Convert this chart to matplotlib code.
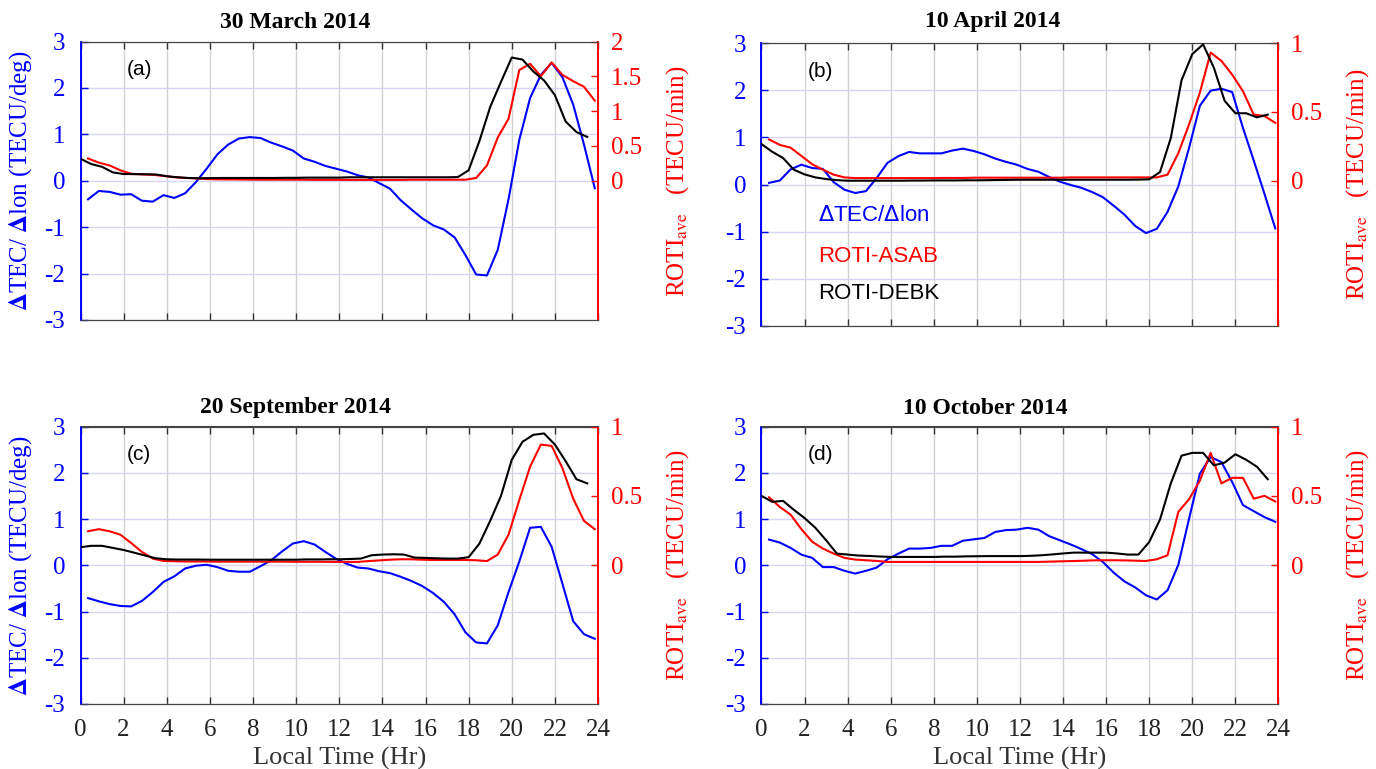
import matplotlib
matplotlib.use("Agg")
import matplotlib.pyplot as plt
import numpy as np

plt.rcParams['font.family'] = ['Liberation Serif', 'DejaVu Serif']
plt.rcParams['mathtext.fontset'] = 'stix'
plt.rcParams['axes.unicode_minus'] = False

# ---------------- data ----------------
# Local time for dTEC/dlon and ROTI-ASAB samples (half-hour steps)
t_main = [0.35 + 0.5 * k for k in range(48)]
# Local time for ROTI-DEBK samples
t_debk = [0.5 * k for k in range(48)]

titles = ["30 March 2014", "10 April 2014", "20 September 2014", "10 October 2014"]
panel_tags = ["(a)", "(b)", "(c)", "(d)"]

dtec_a = [-0.40, -0.22, -0.24, -0.30, -0.29, -0.43, -0.45, -0.31, -0.37, -0.27,
          -0.03, 0.26, 0.57, 0.78, 0.91, 0.94, 0.92, 0.82, 0.74, 0.65,
          0.48, 0.41, 0.32, 0.26, 0.20, 0.12, 0.07, -0.05, -0.17, -0.42,
          -0.62, -0.81, -0.96, -1.05, -1.22, -1.60, -2.02, -2.04, -1.49, -0.40,
          0.88, 1.78, 2.28, 2.54, 2.23, 1.64, 0.78, -0.16]
asab_a = [0.32, 0.26, 0.22, 0.15, 0.10, 0.092, 0.085, 0.07, 0.05, 0.04,
          0.034, 0.025, 0.02, 0.02, 0.018, 0.016, 0.015, 0.015, 0.015, 0.015,
          0.015, 0.013, 0.013, 0.013, 0.012, 0.012, 0.012, 0.012, 0.012, 0.012,
          0.015, 0.015, 0.015, 0.015, 0.015, 0.015, 0.04, 0.22, 0.62, 0.89,
          1.59, 1.68, 1.50, 1.70, 1.52, 1.43, 1.35, 1.15]
debk_a = [0.315, 0.24, 0.20, 0.12, 0.097, 0.095, 0.093, 0.09, 0.065, 0.05,
          0.04, 0.035, 0.038, 0.04, 0.04, 0.04, 0.04, 0.04, 0.04, 0.042,
          0.042, 0.045, 0.045, 0.045, 0.045, 0.05, 0.05, 0.05, 0.05, 0.05,
          0.05, 0.05, 0.05, 0.05, 0.05, 0.053, 0.15, 0.57, 1.06, 1.42,
          1.77, 1.74, 1.57, 1.44, 1.23, 0.85, 0.70, 0.63]

dtec_b = [0.035, 0.085, 0.32, 0.42, 0.35, 0.33, 0.05, -0.11, -0.18, -0.14,
          0.14, 0.46, 0.60, 0.69, 0.66, 0.66, 0.66, 0.72, 0.76, 0.71,
          0.64, 0.55, 0.48, 0.42, 0.33, 0.27, 0.16, 0.06, -0.01, -0.07,
          -0.16, -0.27, -0.45, -0.64, -0.88, -1.03, -0.94, -0.58, -0.04, 0.78,
          1.67, 1.99, 2.03, 1.96, 1.20, 0.51, -0.20, -0.93]
asab_b = [0.30, 0.26, 0.24, 0.18, 0.12, 0.08, 0.044, 0.024, 0.019, 0.019,
          0.019, 0.019, 0.019, 0.019, 0.019, 0.019, 0.02, 0.02, 0.02, 0.022,
          0.022, 0.022, 0.022, 0.022, 0.022, 0.022, 0.022, 0.022, 0.024, 0.024,
          0.024, 0.024, 0.024, 0.024, 0.024, 0.024, 0.024, 0.044, 0.20, 0.41,
          0.64, 0.93, 0.87, 0.77, 0.65, 0.48, 0.47, 0.42]
debk_b = [0.266, 0.21, 0.165, 0.08, 0.046, 0.024, 0.012, 0.004, 0.0, 0.0,
          0.0, 0.0, 0.0, 0.0, 0.001, 0.001, 0.002, 0.002, 0.002, 0.003,
          0.003, 0.004, 0.005, 0.006, 0.007, 0.007, 0.007, 0.007, 0.007, 0.007,
          0.007, 0.007, 0.007, 0.007, 0.007, 0.008, 0.01, 0.063, 0.31, 0.73,
          0.92, 0.99, 0.82, 0.58, 0.49, 0.49, 0.46, 0.48]

dtec_c = [-0.71, -0.78, -0.84, -0.88, -0.89, -0.77, -0.58, -0.36, -0.24, -0.07,
          -0.01, 0.01, -0.04, -0.12, -0.14, -0.14, -0.02, 0.11, 0.30, 0.47,
          0.52, 0.45, 0.29, 0.14, 0.03, -0.05, -0.07, -0.13, -0.17, -0.25,
          -0.34, -0.45, -0.60, -0.79, -1.06, -1.45, -1.67, -1.69, -1.30, -0.58,
          0.08, 0.81, 0.83, 0.40, -0.40, -1.21, -1.49, -1.59]
asab_c = [0.245, 0.26, 0.245, 0.22, 0.16, 0.096, 0.048, 0.031, 0.029, 0.027,
          0.027, 0.027, 0.026, 0.026, 0.026, 0.026, 0.026, 0.026, 0.026, 0.025,
          0.025, 0.025, 0.025, 0.024, 0.024, 0.024, 0.03, 0.035, 0.04, 0.043,
          0.043, 0.04, 0.038, 0.038, 0.038, 0.038, 0.036, 0.03, 0.077, 0.22,
          0.47, 0.71, 0.87, 0.86, 0.70, 0.48, 0.32, 0.26]
debk_c = [0.13, 0.14, 0.14, 0.125, 0.11, 0.09, 0.07, 0.05, 0.043, 0.041,
          0.041, 0.041, 0.04, 0.04, 0.04, 0.04, 0.04, 0.04, 0.04, 0.04,
          0.04, 0.042, 0.042, 0.043, 0.043, 0.045, 0.048, 0.072, 0.077, 0.079,
          0.077, 0.055, 0.053, 0.05, 0.048, 0.048, 0.058, 0.156, 0.32, 0.50,
          0.76, 0.89, 0.94, 0.95, 0.87, 0.75, 0.62, 0.59]

dtec_d = [0.555, 0.49, 0.375, 0.23, 0.16, -0.04, -0.04, -0.12, -0.18, -0.12,
          -0.05, 0.13, 0.25, 0.36, 0.36, 0.375, 0.42, 0.42, 0.53, 0.56,
          0.59, 0.72, 0.76, 0.77, 0.81, 0.77, 0.63, 0.54, 0.45, 0.35,
          0.24, 0.07, -0.16, -0.35, -0.48, -0.65, -0.74, -0.54, 0.01, 1.01,
          1.98, 2.34, 2.23, 1.80, 1.30, 1.17, 1.04, 0.94]
asab_d = [0.49, 0.42, 0.365, 0.26, 0.17, 0.12, 0.084, 0.053, 0.041, 0.036,
          0.031, 0.024, 0.024, 0.024, 0.024, 0.024, 0.024, 0.024, 0.024, 0.024,
          0.024, 0.024, 0.024, 0.024, 0.024, 0.024, 0.026, 0.028, 0.03, 0.032,
          0.035, 0.036, 0.036, 0.035, 0.033, 0.031, 0.043, 0.072, 0.385, 0.476,
          0.61, 0.81, 0.59, 0.63, 0.63, 0.48, 0.50, 0.46]
debk_d = [0.50, 0.457, 0.464, 0.40, 0.34, 0.27, 0.18, 0.084, 0.077, 0.07,
          0.067, 0.063, 0.06, 0.06, 0.06, 0.06, 0.06, 0.062, 0.062, 0.064,
          0.065, 0.066, 0.066, 0.066, 0.066, 0.068, 0.072, 0.078, 0.085, 0.091,
          0.091, 0.091, 0.091, 0.085, 0.077, 0.077, 0.168, 0.33, 0.59, 0.79,
          0.81, 0.81, 0.72, 0.74, 0.80, 0.76, 0.71, 0.62]

dtec_all = [dtec_a, dtec_b, dtec_c, dtec_d]
asab_all = [asab_a, asab_b, asab_c, asab_d]
debk_all = [debk_a, debk_b, debk_c, debk_d]

left_ticks = [-3, -2, -1, 0, 1, 2, 3]
x_ticks = list(range(0, 25, 2))
roti_ticks = [[0, 0.5, 1, 1.5, 2], [0, 0.5, 1], [0, 0.5, 1], [0, 0.5, 1]]
roti_ticklabels = [["0", "0.5", "1", "1.5", "2"], ["0", "0.5", "1"], ["0", "0.5", "1"], ["0", "0.5", "1"]]
roti_lims = [(-2, 2), (-1.055, 1), (-1, 1), (-1, 1)]

# ---------------- layout ----------------
W, H = 1376, 769
fig = plt.figure(figsize=(W / 100, H / 100), dpi=100)

def rect(l, r, t, b):
    return [l / W, 1 - b / H, (r - l) / W, (b - t) / H]

boxes = [(80.5, 598, 41.5, 320), (761.5, 1278.5, 43, 326),
         (80.5, 598, 426.5, 704), (761.5, 1278.5, 426.5, 704)]
title_xy = [(295, 22), (993, 22), (295, 408), (985, 408)]

BLUE = '#0000ff'
RED = '#ff0000'
TICKFS = 18

for i in range(4):
    l, r, t, b = boxes[i]
    ax = fig.add_axes(rect(l, r, t, b))
    ax2 = ax.twinx()

    ax.plot(t_main, dtec_all[i], color=BLUE, lw=1.5, zorder=3)
    ax2.plot(t_main, asab_all[i], color=RED, lw=1.5, zorder=3)
    ax2.plot(t_debk, debk_all[i], color='black', lw=1.5, zorder=4)

    ax.set_xlim(0, 24)
    ax.set_ylim(-3, 3)
    ax.set_xticks(x_ticks)
    ax.set_yticks(left_ticks)
    ax2.set_ylim(*roti_lims[i])
    ax2.set_yticks(roti_ticks[i])
    ax2.set_yticklabels(roti_ticklabels[i])

    ax.xaxis.grid(True, color='#d2d2d2', lw=1.0)
    ax.yaxis.grid(True, color='#d4d4f7', lw=1.0)
    ax.set_axisbelow(True)

    ax.tick_params(axis='x', direction='in', top=True, length=5, width=1,
                   color='#333333', labelcolor='#222222', labelsize=TICKFS, pad=11)
    ax.tick_params(axis='y', direction='in', length=5, width=1, colors=BLUE,
                   labelsize=TICKFS, pad=11)
    ax2.tick_params(axis='y', direction='in', length=5, width=1, colors=RED,
                    labelsize=TICKFS, pad=9)
    if i < 2:
        ax.set_xticklabels([])
    for a in (ax, ax2):
        a.spines['top'].set_color('#444444')
        a.spines['bottom'].set_color('#444444')
        a.spines['left'].set_color(BLUE)
        a.spines['right'].set_color(RED)
        a.spines['left'].set_linewidth(1.2)
        a.spines['right'].set_linewidth(1.2)

    if i % 2 == 0:
        ax.set_ylabel(r'$\mathbf{\Delta}$TEC/ $\mathbf{\Delta}$lon (TECU/deg)',
                      color=BLUE, fontsize=18)
        ax.yaxis.set_label_coords((34 - l) / (r - l), 0.5)
    ax2.set_ylabel(r'ROTI$_{\mathrm{ave}}$   (TECU/min)', color=RED,
                   fontsize=18, labelpad=16)
    if i >= 2:
        ax.set_xlabel('Local Time (Hr)', fontsize=19, color='#333333',
                      labelpad=4)

    ax.text(0.09, 0.9, panel_tags[i], transform=ax.transAxes,
            fontsize=15, family=['Liberation Sans'], ha='left', va='center')

    tx, ty = title_xy[i]
    fig.text(tx / W, 1 - ty / H, titles[i], ha='center', va='center',
             fontsize=17, fontweight='bold')

    if i == 1:
        lx = 0.11
        ax.text(lx, 0.39, r'$\Delta$TEC/$\Delta$lon', transform=ax.transAxes,
                color=BLUE, fontsize=16, family=['Liberation Sans'],
                va='center', math_fontfamily='dejavusans')
        ax.text(lx, 0.245, 'ROTI-ASAB', transform=ax.transAxes, color=RED,
                fontsize=16, family=['Liberation Sans'], va='center')
        ax.text(lx, 0.115, 'ROTI-DEBK', transform=ax.transAxes, color='black',
                fontsize=16, family=['Liberation Sans'], va='center')

fig.savefig('out.png', dpi=100)
